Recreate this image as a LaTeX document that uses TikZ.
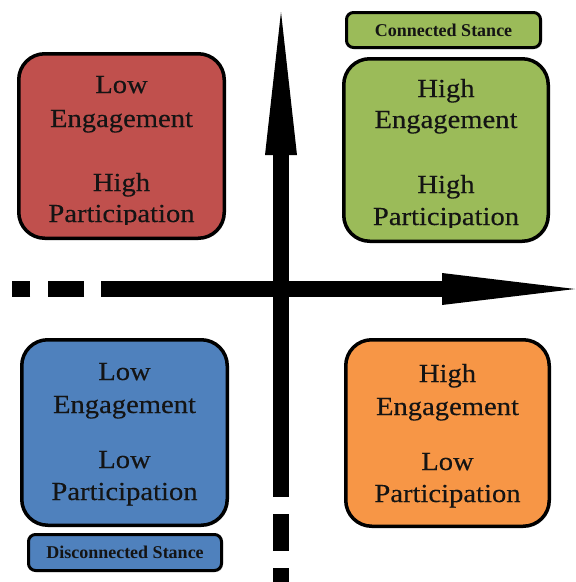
\documentclass[tikz,border=0pt]{standalone}
\usepackage{fontspec}
\setmainfont{Liberation Serif}
\newfontfamily\quadfont[FakeStretch=1.1, FakeBold=0.3]{Liberation Serif}
\usetikzlibrary{shadows}

\definecolor{qred}{RGB}{192,80,77}
\definecolor{qgreen}{RGB}{155,187,89}
\definecolor{qblue}{RGB}{79,129,189}
\definecolor{qorange}{RGB}{247,150,70}

\tikzset{
  quadbox/.style={draw=black, line width=3.5pt, rounded corners=26pt,
    minimum width=#1, inner sep=0pt,
    drop shadow={shadow xshift=1.5pt, shadow yshift=-1.5pt, opacity=0.25}},
  stancebox/.style={draw=black, line width=3pt, rounded corners=7pt,
    inner sep=0pt,
    drop shadow={shadow xshift=1.5pt, shadow yshift=-1.5pt, opacity=0.3}},
  quadtext/.style={inner sep=0pt, anchor=base, text=black!92,
    font=\quadfont\fontsize{26}{31}\selectfont},
  stancetext/.style={inner sep=0pt, text=black!92,
    font=\bfseries\fontsize{18}{22}\selectfont},
  axisline/.style={line width=16pt, line cap=butt},
  axishead/.style={fill=black, draw=none}
}

\begin{document}
\begin{tikzpicture}[x=1pt, y=-1pt]
\useasboundingbox (0,0) rectangle (576,582);

% ---- quadrant boxes ----
\node[quadbox=205.5pt, minimum height=184.5pt, fill=qred]    (red)    at (121.5,146)   {};
\node[quadbox=204.5pt, minimum height=182.5pt, fill=qgreen]  (green)  at (446,150)     {};
\node[quadbox=205.5pt, minimum height=185.5pt, fill=qblue]   (blue)   at (124.5,432.5) {};
\node[quadbox=203.5pt, minimum height=186.5pt, fill=qorange] (orange) at (447.5,433)   {};

% ---- stance labels ----
\node[stancebox, minimum width=194pt, minimum height=35pt, fill=qgreen] (conn) at (443.5,30) {};
\node[stancetext] (connt) at (conn.center) {Connected Stance};
\node[stancebox, minimum width=193pt, minimum height=36pt, fill=qblue] (disc) at (125,552.5) {};
\node[stancetext] (disct) at (disc.center) {Disconnected Stance};

% ---- quadrant texts ----
\node[quadtext] (r1) at (121.5,93)  {Low};
\node[quadtext] (r2) at (121.5,127) {Engagement};
\node[quadtext] (r3) at (121.5,191) {High};
\begin{scope}
  \clip (20,195) rectangle (223,224);
  \node[quadtext] (r4) at (121.5,222) {Participation};
\end{scope}

\node[quadtext] (g1) at (446,97)  {High};
\node[quadtext] (g2) at (446,128) {Engagement};
\node[quadtext] (g3) at (446,193) {High};
\begin{scope}
  \clip (345,198) rectangle (547,227);
  \node[quadtext] (g4) at (446,225) {Participation};
\end{scope}

\node[quadtext] (b1) at (124.5,380) {Low};
\node[quadtext] (b2) at (124.5,413) {Engagement};
\node[quadtext] (b3) at (124.5,468) {Low};
\node[quadtext] (b4) at (124.5,500) {Participation};

\node[quadtext] (o1) at (447.5,382) {High};
\node[quadtext] (o2) at (447.5,415) {Engagement};
\node[quadtext] (o3) at (447.5,470) {Low};
\node[quadtext] (o4) at (447.5,502) {Participation};

% ---- vertical axis: dashed tail below, arrow head on top ----
\coordinate (vbase) at (281,155);
\coordinate (vtip)  at (281,12);
\coordinate (vend)  at (281,582);
\draw[axisline, dash pattern=on 342pt off 17pt on 37pt off 17pt on 60pt] (vbase) -- (vend);
\fill[axishead] (265,155) -- (vtip) -- (297,155) -- cycle;

% ---- horizontal axis: dashed tail on the left, arrow head on the right ----
\coordinate (hbase) at (442,289);
\coordinate (htip)  at (575,289);
\coordinate (hend)  at (12,289);
\draw[axisline, dash pattern=on 341pt off 17pt on 36pt off 18pt on 18pt off 100pt] (hbase) -- (hend);
\fill[axishead] (442,273) -- (htip) -- (442,305) -- cycle;
\end{tikzpicture}
\end{document}
